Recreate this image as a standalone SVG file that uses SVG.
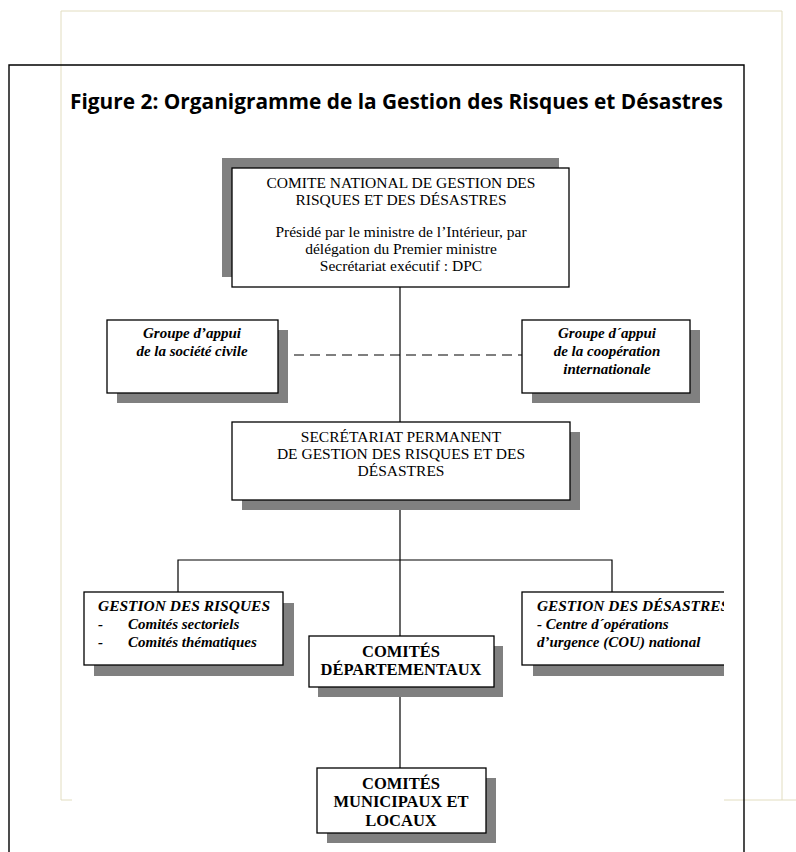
<svg xmlns="http://www.w3.org/2000/svg" width="796" height="852" viewBox="0 0 796 852">
<style>
.box{fill:#fff;stroke:#000;stroke-width:1.3}
.sh{fill:#808080}
.ln{stroke:#000;stroke-width:1.2;fill:none}
.beige{stroke:#e2ddc0;stroke-width:1;fill:none}
.t{font-family:"Liberation Serif","Times New Roman",serif;font-size:15.5px;fill:#000}
.c{text-anchor:middle}
.bi{font-weight:bold;font-style:italic;font-size:15px}
.b{font-weight:bold;font-size:16.5px}
.title{font-family:"Open Sans","Noto Sans","Liberation Sans",sans-serif;font-weight:bold;font-size:21px;fill:#000}
</style>
<defs>
<clipPath id="clipR"><rect x="0" y="0" width="724" height="852"/></clipPath>
</defs>
<rect width="796" height="852" fill="#fff"/>
<g id="page">
<path class="beige" d="M61,800 V11 H782 V800"/>
<path class="beige" d="M61,800 H72 M724,800 H796"/>
<path d="M9,852 V65 H744 V852" fill="none" stroke="#000" stroke-width="1.4"/>
<text class="title" x="70" y="109" textLength="653" lengthAdjust="spacingAndGlyphs">Figure 2: Organigramme de la Gestion des Risques et Désastres</text>
</g>
<g id="connectors">
<line class="ln" x1="400" y1="287" x2="400" y2="422"/>
<line class="ln" x1="278" y1="355" x2="522" y2="355" stroke-dasharray="10,6"/>
<line class="ln" x1="400" y1="500" x2="400" y2="636"/>
<path class="ln" d="M178,592 V560 H612 V592"/>
<line class="ln" x1="400" y1="687" x2="400" y2="768"/>
</g>
<g id="comite-national">
<rect class="sh" x="222" y="158" width="337" height="119"/>
<rect class="box" x="232" y="168" width="337" height="119"/>
<text class="t c" x="401" y="188">COMITE NATIONAL DE GESTION DES</text>
<text class="t c" x="401" y="205">RISQUES ET DES DÉSASTRES</text>
<text class="t c" x="401" y="237">Présidé par le ministre  de l’Intérieur,  par</text>
<text class="t c" x="401" y="254">délégation du Premier ministre</text>
<text class="t c" x="401" y="271">Secrétariat exécutif  : DPC</text>
</g>
<g id="groupe-societe-civile">
<rect class="sh" x="117" y="330" width="171" height="73"/>
<rect class="box" x="107" y="320" width="171" height="73"/>
<text class="t c bi" x="192" y="338">Groupe d’appui</text>
<text class="t c bi" x="192" y="356">de la société civile</text>
</g>
<g id="groupe-cooperation">
<rect class="sh" x="532" y="330" width="168" height="73"/>
<rect class="box" x="522" y="320" width="168" height="73"/>
<text class="t c bi" x="607" y="338">Groupe d´appui</text>
<text class="t c bi" x="607" y="356">de la coopération</text>
<text class="t c bi" x="607" y="374">internationale</text>
</g>
<g id="secretariat-permanent">
<rect class="sh" x="242" y="432" width="338" height="78"/>
<rect class="box" x="232" y="422" width="338" height="78"/>
<text class="t c" x="401" y="442">SECRÉTARIAT PERMANENT</text>
<text class="t c" x="401" y="459">DE GESTION DES RISQUES ET DES</text>
<text class="t c" x="401" y="476">DÉSASTRES</text>
</g>
<g id="gestion-risques">
<rect class="sh" x="94" y="603" width="200" height="73"/>
<rect class="box" x="84" y="592" width="199" height="73"/>
<text class="t bi" x="98" y="611" textLength="172" lengthAdjust="spacingAndGlyphs">GESTION DES RISQUES</text>
<text class="t bi" x="98" y="629">-</text>
<text class="t bi" x="128" y="629">Comités sectoriels</text>
<text class="t bi" x="98" y="647">-</text>
<text class="t bi" x="128" y="647">Comités thématiques</text>
</g>
<g id="gestion-desastres" clip-path="url(#clipR)">
<rect class="sh" x="533" y="603" width="230" height="73"/>
<rect class="box" x="522" y="592" width="230" height="73"/>
<text class="t bi" x="537" y="611" textLength="192" lengthAdjust="spacingAndGlyphs">GESTION DES DÉSASTRES</text>
<text class="t bi" x="537" y="629">- Centre d´opérations</text>
<text class="t bi" x="537" y="647">d’urgence (COU) national</text>
</g>
<g id="comites-departementaux">
<rect class="sh" x="318" y="646" width="185" height="51"/>
<rect class="box" x="309" y="636" width="185" height="51"/>
<text class="t c b" x="401" y="657">COMITÉS</text>
<text class="t c b" x="401" y="675">DÉPARTEMENTAUX</text>
</g>
<g id="comites-municipaux">
<rect class="sh" x="327" y="778" width="169" height="65"/>
<rect class="box" x="317" y="768" width="169" height="65"/>
<text class="t c b" x="401" y="789">COMITÉS</text>
<text class="t c b" x="401" y="807">MUNICIPAUX ET</text>
<text class="t c b" x="401" y="826">LOCAUX</text>
</g>
</svg>
